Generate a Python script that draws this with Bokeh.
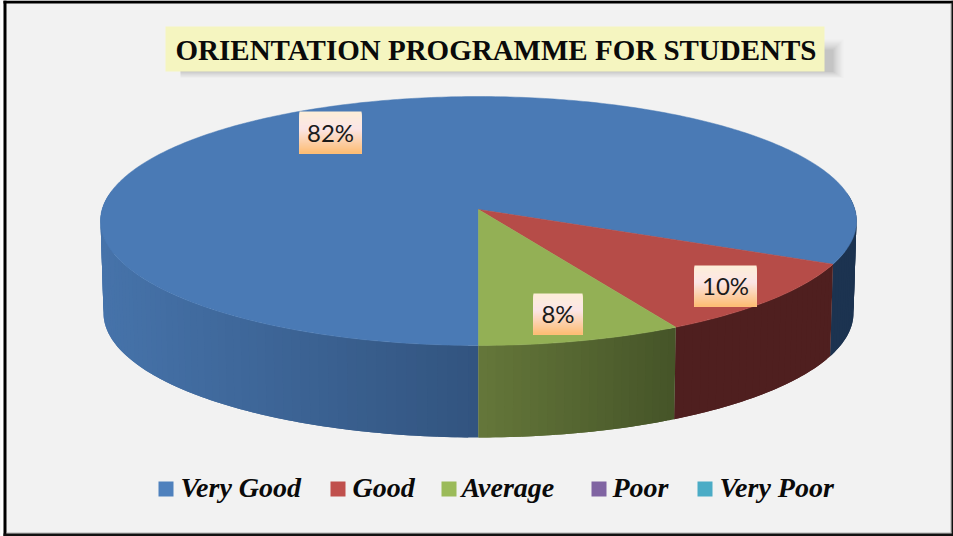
import math
from bokeh.plotting import figure
from bokeh.embed import file_html
from bokeh.resources import INLINE
from bokeh.core.properties import value
from bokeh.models import Range1d

TITLE = "ORIENTATION PROGRAMME FOR STUDENTS"
categories = ["Very Good", "Good", "Average", "Poor", "Very Poor"]
shares = [82, 10, 8, 0, 0]
pie_labels = ["82%", "10%", "8%"]
top_colors = ["#4a7ab5", "#b64c48", "#93b055", "#8560a8", "#4bacc6"]
legend_colors = ["#4f81bd", "#c0504d", "#9bbb59", "#8064a2", "#4bacc6"]
wall_left = ["#4673aa", "#4f1f1f", "#65773a"]
wall_right = ["#32547f", "#4f1f1f", "#455428"]

W, H = 953, 536
BG = "#f2f2f2"
p = figure(width=W, height=H, output_backend="svg", toolbar_location=None,
           x_range=Range1d(0, W), y_range=Range1d(H, 0),
           min_border=0, background_fill_color=BG, border_fill_color=BG,
           outline_line_color=None)
p.axis.visible = False
p.grid.visible = False

# perspective projection of a flat disc
CX, CY = 478.0, 209.0
B, A, K = 376.4, 123.4, -0.0924
DEPTH = 92.0
XS = 0.992


def top(phi):
    u, v = -math.sin(phi), math.cos(phi)
    d = 1 + K * v
    return CX + B * u / d, CY + A * v / d


def bottom(phi):
    x, y = top(phi)
    return CX + (x - CX) * XS, y + DEPTH


def mix(c1, c2, t):
    a = [int(c1[i:i + 2], 16) for i in (1, 3, 5)]
    b = [int(c2[i:i + 2], 16) for i in (1, 3, 5)]
    return "#%02x%02x%02x" % tuple(round(a[i] + (b[i] - a[i]) * t) for i in range(3))


def angles(n, a, b):
    return [a + (b - a) * i / n for i in range(n + 1)]


total = sum(shares)
spans = []
start = 0.0
for s in shares[:3]:
    end = start + s / total * 2 * math.pi
    spans.append((start, end))
    start = end

# walls: painter's order, every strip overlapping the next one so no seams show
xs, ys, cols = [], [], []
for i, (a, b) in enumerate(spans):
    n = int(max(24, (b - a) * 40))
    ang = angles(n, a, b)
    xa = [top(t)[0] for t in ang]
    lo, hi = min(xa), max(xa)
    for j in range(n):
        t1, t2 = ang[j], ang[min(j + 2, n)]
        x1, y1 = top(ang[j])
        x2, y2 = top(ang[j + 1])
        if y1 < CY - 15 and y2 < CY - 15:
            continue
        if i == 0:
            if ang[j] > math.pi:
                col = "#1c3350"
            else:
                col = mix(wall_right[0], wall_left[0], min(1, (CX - (x1 + x2) / 2) / 378))
        else:
            col = mix(wall_left[i], wall_right[i], ((x1 + x2) / 2 - lo) / max(hi - lo, 1))
        sub = angles(3, t1, t2)
        tp = [top(t) for t in sub]
        bt = [bottom(t) for t in reversed(sub)]
        xs.append([q[0] for q in tp + bt])
        ys.append([q[1] for q in tp + bt])
        cols.append(col)
p.patches(xs, ys, fill_color=cols, line_color=None)

# top faces
xs, ys, cols = [], [], []
for i, (a, b) in enumerate(spans):
    n = int(max(8, (b - a) * 70))
    pts = [top(t) for t in angles(n, a, b)]
    xs.append([CX] + [q[0] for q in pts])
    ys.append([CY] + [q[1] for q in pts])
    cols.append(top_colors[i])
p.patches(xs, ys, fill_color=cols, line_color=cols, line_width=0.5)

# title box with soft shadow
for k, al in enumerate([0.03, 0.05, 0.06, 0.07, 0.09, 0.10]):
    g = 11 - 2 * k
    p.quad(left=[180], right=[832 + g], top=[50 - g], bottom=[71 + g * 0.6],
           fill_color="#707070", fill_alpha=al, line_color=None)
p.quad(left=[165], right=[824], top=[26], bottom=[71], fill_color="#f5f5c0", line_color=None)
p.text([495.5], [49.5], text=[TITLE], text_font=value("Liberation Serif"), text_font_style="bold",
       text_font_size="29px", text_align="center", text_baseline="alphabetic", text_color="#0a0a0a")

# data label boxes: painter's order gradient
boxes = [(299, 361, 111, 153), (694, 756, 265, 306), (533, 582, 293, 334)]
STOPS = [(0.0, "#fdeed8"), (0.4, "#fbe5e6"), (1.0, "#fdbb6f")]
for (l, r, t, b), lab in zip(boxes, pie_labels):
    for y in range(t, b):
        f = (y - t) / (b - t)
        if f < STOPS[1][0]:
            c = mix(STOPS[0][1], STOPS[1][1], f / STOPS[1][0])
        else:
            c = mix(STOPS[1][1], STOPS[2][1], (f - STOPS[1][0]) / (1 - STOPS[1][0]))
        p.quad(left=[l], right=[r], top=[y], bottom=[b], fill_color=c, line_color=None)
    p.text([(l + r) / 2], [(t + b) / 2 - 0.5], text=[lab], text_font=value("Lato"), text_font_size="24px",
           text_align="center", text_baseline="alphabetic", text_color="#1a1a1a")

# legend
sq_left = [158, 330, 441, 591, 697]
txt_left = [180, 352, 461, 612, 719]
for i, name in enumerate(categories):
    p.quad(left=[sq_left[i]], right=[sq_left[i] + 15], top=[481], bottom=[496],
           fill_color=legend_colors[i], line_color=None)
    p.text([txt_left[i]], [487], text=[name], text_font=value("Liberation Serif"),
           text_font_style="bold italic", text_font_size="28px",
           text_align="left", text_baseline="alphabetic", text_color="#0a0a0a")

# frame
p.quad(left=[0], right=[3], top=[0], bottom=[H], fill_color="#ffffff", line_color=None)
p.quad(left=[3], right=[6], top=[0], bottom=[H], fill_color="#000000", line_color=None)
p.quad(left=[3], right=[W], top=[0], bottom=[3], fill_color="#000000", line_color=None)
p.quad(left=[950], right=[951], top=[3], bottom=[533], fill_color="#b0b0b0", line_color=None)
p.quad(left=[951], right=[W], top=[0], bottom=[H], fill_color="#111111", line_color=None)
p.quad(left=[6], right=[951], top=[532], bottom=[533], fill_color="#b0b0b0", line_color=None)
p.quad(left=[3], right=[W], top=[533], bottom=[H], fill_color="#111111", line_color=None)

open("out.html", "w").write(file_html(p, INLINE))
